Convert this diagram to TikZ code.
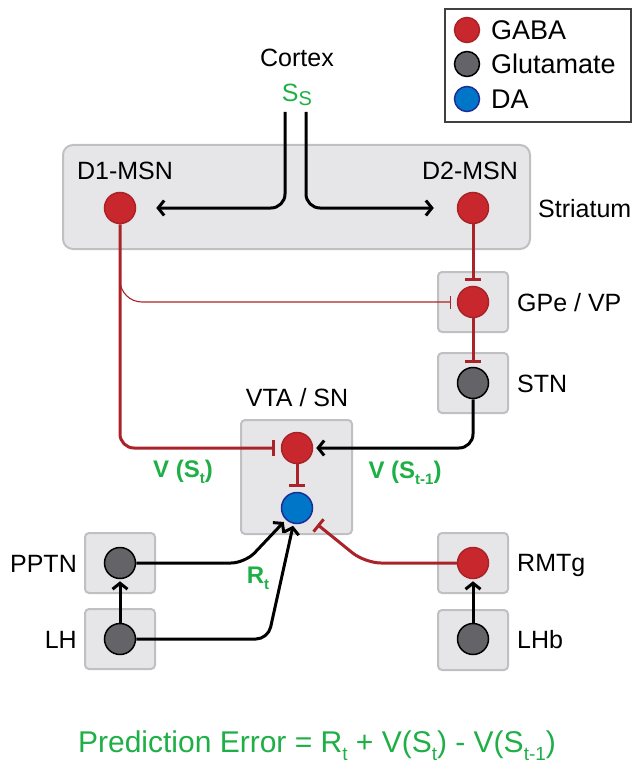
\documentclass[tikz,border=0pt]{standalone}
\usepackage{fontspec}
\setmainfont{Liberation Sans}
\usetikzlibrary{arrows.meta}
\definecolor{gred}{RGB}{200,40,45}
\definecolor{lred}{RGB}{170,35,40}
\definecolor{boxfill}{RGB}{230,230,232}
\definecolor{boxline}{RGB}{192,192,194}
\definecolor{gluta}{RGB}{100,100,104}
\definecolor{dablue}{RGB}{0,118,200}
\definecolor{dablueline}{RGB}{30,45,150}
\definecolor{tgreen}{RGB}{30,175,70}
\newcommand\vsubx[1]{\raisebox{-6pt}{\fontsize{15}{15}\selectfont #1}}
\newcommand\psubx[1]{\raisebox{-8pt}{\fontsize{19}{19}\selectfont #1}}
\begin{document}
\begin{tikzpicture}[x=1pt,y=-1pt,
  region/.style={draw=boxline, fill=boxfill, line width=2pt, rounded corners=4pt, inner sep=0pt},
  smallbox/.style={region, minimum width=70pt, minimum height=60pt},
  neuron/.style={circle, minimum size=31pt, inner sep=0pt, line width=1.5pt},
  gaba/.style={neuron, fill=gred, draw=gred!85!black},
  glu/.style={neuron, fill=gluta, draw=black},
  dan/.style={neuron, fill=dablue, draw=dablueline},
  lab/.style={font=\fontsize{25}{30}\selectfont, text height=18pt, text depth=0pt, inner sep=0pt},
  leglab/.style={font=\fontsize{27}{32}\selectfont, text height=19.5pt, text depth=0pt, inner sep=0pt, anchor=west},
  vlab/.style={font=\fontsize{24}{29}\selectfont\bfseries, text=tgreen, inner sep=0pt},
  exc/.style={draw=black, line width=3pt, -{Straight Barb[length=6pt,width=15pt]}},
  inh/.style={draw=lred, line width=3pt, -{Bar[width=16pt]}},
  inhthin/.style={draw=lred, line width=1.1pt, -{Bar[width=13pt]}}
]
\useasboundingbox (0,0) rectangle (633,770);

% legend
\node[draw=black!75, line width=1.5pt, minimum width=186pt, minimum height=113pt, inner sep=0pt] (legend) at (538,65.5) {};
\node[neuron, minimum size=25pt, fill=gred, draw=gred!85!black] (lg1) at (467,30) {};
\node[neuron, minimum size=25pt, fill=gluta, draw=black] (lg2) at (467,64) {};
\node[neuron, minimum size=25pt, fill=dablue, draw=dablueline] (lg3) at (467,99) {};
\node[leglab] (lt1) at (491,30) {GABA};
\node[leglab] (lt2) at (491,64) {Glutamate};
\node[leglab] (lt3) at (491,99) {DA};

% regions
\node[region, rounded corners=10pt, minimum width=467pt, minimum height=104pt] (striatum) at (296.5,197) {};
\node[smallbox] (bgpe) at (473,302) {};
\node[smallbox] (bstn) at (473,383) {};
\node[smallbox] (brmtg) at (473,563) {};
\node[smallbox] (blhb) at (473,640) {};
\node[smallbox] (bpptn) at (120,563) {};
\node[smallbox] (blh) at (120,639) {};
\node[region, minimum width=111pt, minimum height=114pt] (bvta) at (296.5,477) {};

% labels
\node[lab] (cortex) at (297,58) {Cortex};
\node[lab, text=tgreen] (ss) at (297,93) {S\raisebox{-4pt}{\fontsize{20}{22}\selectfont S}};
\node[lab] (d1lab) at (125,170) {D1-MSN};
\node[lab] (d2lab) at (470,170) {D2-MSN};
\node[lab, anchor=west] (strlab) at (538,208) {Striatum};
\node[lab, anchor=west] (gpelab) at (517,302) {GPe / VP};
\node[lab, anchor=west] (stnlab) at (517,383) {STN};
\node[lab, anchor=west] (rmtglab) at (517,562) {RMTg};
\node[lab, anchor=west] (lhblab) at (517,639) {LHb};
\node[lab, anchor=east] (pptnlab) at (77,563) {PPTN};
\node[lab, anchor=east] (lhlab) at (77,639) {LH};
\node[lab] (vtalab) at (297,397) {VTA / SN};

% neurons
\node[gaba] (d1) at (120,208) {};
\node[gaba] (d2) at (473,208) {};
\node[gaba] (gpe) at (473,302) {};
\node[glu] (stn) at (473,383) {};
\node[gaba] (vtar) at (297,448) {};
\node[dan] (da) at (297,508) {};
\node[glu] (pptn) at (120,563) {};
\node[glu] (lh) at (120,639) {};
\node[gaba] (rmtg) at (473,563) {};
\node[glu] (lhb) at (473,639) {};

% coordinates
\coordinate (cl) at (285,112);
\coordinate (cr) at (306,112);
\coordinate (d1b) at (120,262);
\coordinate (pptnk) at (245,563);
\coordinate (lhk) at (268,639);
\coordinate (rmk) at (365,563);

% connectors
\draw[exc, rounded corners=14pt, shorten >=20pt] (cl) |- (d1);
\draw[exc, rounded corners=14pt, shorten >=23pt] (cr) |- (d2);
\draw[inh, rounded corners=14pt, shorten >=6pt] (d1) |- (vtar);
\draw[inhthin, rounded corners=22pt, shorten >=6pt] (d1b) |- (gpe);
\draw[inh, shorten >=4.5pt] (d2) -- (gpe);
\draw[inh, shorten >=4pt] (gpe) -- (stn);
\draw[exc, rounded corners=14pt, shorten >=3pt] (stn) |- (vtar);
\draw[inh, shorten >=5pt] (vtar) -- (da);
\draw[exc, rounded corners=14pt, shorten >=3pt] (pptn) -- (pptnk) -- (da);
\draw[exc, rounded corners=12pt, shorten >=2pt] (lh) -- (lhk) -- (da);
\draw[inh, rounded corners=16pt, shorten >=10pt] (rmtg) -- (rmk) -- (da);
\draw[exc, shorten >=2pt] (lh) -- (pptn);
\draw[exc, shorten >=2pt] (lhb) -- (rmtg);

% value labels
\node[vlab] (vst) at (183,472) {V (S\vsubx{t})};
\node[vlab] (vst1) at (405,473) {V (S\vsubx{t-1})};
\node[vlab] (rt) at (258,578) {R\vsubx{t}};
\node[font=\fontsize{30}{36}\selectfont, text=tgreen, inner sep=0pt] (pe) at (317,746) {Prediction Error = R\psubx{t} + V(S\psubx{t}) - V(S\psubx{t-1})};
\end{tikzpicture}
\end{document}
